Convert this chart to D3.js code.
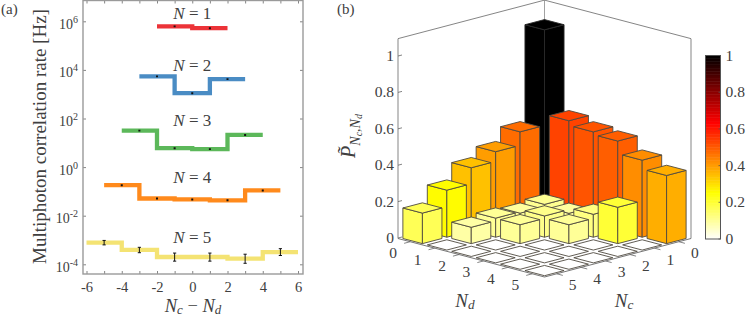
<!DOCTYPE html>
<html>
<head>
<meta charset="utf-8">
<script src="https://cdn.jsdelivr.net/npm/d3@7"></script>
<style>
  html, body { margin: 0; padding: 0; background: #fff; }
  svg { display: block; }
  text { font-family: "Liberation Serif", serif; fill: #404040; }
</style>
</head>
<body>
<script>
// Panel (a): rates per N
const centersN1 = [-1, 1];
const centersN2 = [-2, 0, 2];
const centersN3 = [-3, -1, 1, 3];
const centersN4 = [-4, -2, 0, 2, 4];
const centersN5 = [-5, -3, -1, 1, 3, 5];

const ratesN1 = [6.2e5, 5.2e5];
const ratesN2 = [5.4e3, 1.1e3, 4.2e3];
const ratesN3 = [32, 6.0, 5.5, 21];
const ratesN4 = [0.18, 0.051, 0.047, 0.043, 0.11];
const ratesN5 = [7.8e-4, 3.9e-4, 2.0e-4, 2.0e-4, 1.7e-4, 3.2e-4];

const lowN1 = [6.0e5, 5.0e5];
const lowN2 = [5.2e3, 1.06e3, 4.05e3];
const lowN3 = [31, 5.75, 5.3, 20.2];
const lowN4 = [0.173, 0.049, 0.045, 0.041, 0.105];
const lowN5 = [6.3e-4, 3.0e-4, 1.35e-4, 1.35e-4, 1.1e-4, 2.3e-4];

const highN1 = [6.4e5, 5.4e5];
const highN2 = [5.6e3, 1.14e3, 4.35e3];
const highN3 = [33, 6.25, 5.7, 21.8];
const highN4 = [0.187, 0.053, 0.049, 0.045, 0.115];
const highN5 = [9.6e-4, 5.0e-4, 2.9e-4, 2.9e-4, 2.6e-4, 4.4e-4];

const seriesColors = ["#ec3338", "#4a8cc4", "#5cb85a", "#ff8a1c", "#f4e373"];
const labelRates = [1.2e6, 9.1e3, 48, 0.23, 7.8e-4];
const xTicks = d3.range(-6, 7);
const yTicks = [1e-4, 1e-2, 1, 1e2, 1e4, 1e6];
const yExponents = ["-4", "-2", "0", "2", "4", "6"];

// Panel (b): P[Nc][Nd]
const ncValues = [0, 1, 2, 3, 4, 5];
const ndValues = [0, 1, 2, 3, 4, 5];
const probNc0 = [1.0, 0.535, 0.509, 0.494, 0.424, 0.375];
const probNc1 = [0.474, 0.11, 0.096, 0.126, 0.2, 0];
const probNc2 = [0.40, 0.097, 0.117, 0.104, 0, 0];
const probNc3 = [0.347, 0.105, 0.104, 0, 0, 0];
const probNc4 = [0.259, 0.09, 0, 0, 0, 0];
const probNc5 = [0.168, 0, 0, 0, 0, 0];
const zTicks = [0, 0.2, 0.4, 0.6, 0.8, 1];

const svg = d3.select("body").append("svg")
    .attr("width", 747)
    .attr("height", 318);

// italic N with optional subscript
function addMath(sel, sub, size) {
    sel.append("tspan").attr("font-style", "italic").text("N");
    if (sub) {
        sel.append("tspan").attr("font-style", "italic")
            .attr("font-size", size * 0.7).attr("dy", size * 0.12).text(sub);
    }
}

svg.append("text").attr("x", 1).attr("y", 14).attr("font-size", 15).text("(a)");
svg.append("text").attr("x", 337).attr("y", 14).attr("font-size", 15).text("(b)");

// ---------- panel (a) ----------
const x = d3.scaleLinear().domain([-6, 6]).range([86.5, 298]);
const y = d3.scaleLog().domain([1e-4, 1e6]).range([264.3, 21.3]);
const boxA = { left: 83, right: 303, top: 0.5, bottom: 274 };

const gA = svg.append("g");

const xBottom = gA.append("g")
    .attr("transform", `translate(0,${boxA.bottom})`)
    .call(d3.axisBottom(x).tickValues(xTicks).tickSize(-3).tickPadding(8)
        .tickFormat(d => d % 2 === 0 ? String(d) : ""));
const xTop = gA.append("g")
    .attr("transform", `translate(0,${boxA.top})`)
    .call(d3.axisTop(x).tickValues(xTicks).tickSize(-3).tickFormat(""));
const yLeft = gA.append("g")
    .attr("transform", `translate(${boxA.left},0)`)
    .call(d3.axisLeft(y).tickValues(yTicks).tickSize(-3).tickPadding(5).tickFormat(""));
const yRight = gA.append("g")
    .attr("transform", `translate(${boxA.right},0)`)
    .call(d3.axisRight(y).tickValues(yTicks).tickSize(-3).tickFormat(""));

[xBottom, xTop, yLeft, yRight].forEach(a => {
    a.select(".domain").remove();
    a.selectAll("line").attr("stroke", "#666").attr("stroke-width", 0.8);
});
xBottom.selectAll("text").attr("font-size", 14.5)
    .style("font-family", "Liberation Serif").attr("fill", "#404040");

yLeft.selectAll(".tick text").each(function (d, i) {
    const t = d3.select(this).attr("font-size", 14).attr("fill", "#404040")
        .style("font-family", "Liberation Serif").attr("dy", "0.5em");
    t.append("tspan").text("10");
    t.append("tspan").attr("font-size", 10).attr("dy", -6).text(yExponents[i]);
});

gA.append("rect")
    .attr("x", boxA.left).attr("y", boxA.top)
    .attr("width", boxA.right - boxA.left).attr("height", boxA.bottom - boxA.top)
    .attr("fill", "none").attr("stroke", "#9a9a9a").attr("stroke-width", 1.4);

const stepLine = d3.line().x(d => x(d[0])).y(d => y(d[1])).curve(d3.curveStep);

const allCenters = [centersN1, centersN2, centersN3, centersN4, centersN5];
const allRates = [ratesN1, ratesN2, ratesN3, ratesN4, ratesN5];
const allLow = [lowN1, lowN2, lowN3, lowN4, lowN5];
const allHigh = [highN1, highN2, highN3, highN4, highN5];

allRates.forEach((rates, s) => {
    const centers = allCenters[s];
    const pts = centers.map((c, i) => [c, rates[i]]);
    pts.unshift([centers[0] - 1, rates[0]]);
    pts.push([centers[centers.length - 1] + 1, rates[rates.length - 1]]);

    gA.append("path")
        .attr("d", stepLine(pts))
        .attr("fill", "none")
        .attr("stroke", seriesColors[s])
        .attr("stroke-width", 4.3)
        .attr("stroke-linejoin", "miter");

    const cap = s === 4 ? 1.6 : 1;
    centers.forEach((c, i) => {
        const px = x(c);
        const lo = y(allLow[s][i]), hi = y(allHigh[s][i]);
        gA.append("path")
            .attr("d", `M${px - cap},${lo}H${px + cap}M${px},${lo}V${hi}M${px - cap},${hi}H${px + cap}`)
            .attr("fill", "none")
            .attr("stroke", "#111")
            .attr("stroke-width", s === 4 ? 1 : 1.1);
    });
});

// N = k labels sit above each series
labelRates.forEach((r, i) => {
    const t = gA.append("text")
        .attr("x", x(0)).attr("y", y(r))
        .attr("text-anchor", "middle")
        .attr("font-size", 17);
    addMath(t);
    t.append("tspan").attr("xml:space", "preserve").text(" = " + (i + 1));
});

gA.append("text")
    .attr("transform", "translate(46,136.5) rotate(-90)")
    .attr("text-anchor", "middle")
    .attr("font-size", 19)
    .text("Multiphoton correlation rate [Hz]");

const xLabel = gA.append("text")
    .attr("x", 193).attr("y", 312)
    .attr("text-anchor", "middle")
    .attr("font-size", 18.5);
addMath(xLabel, "c", 18.5);
xLabel.append("tspan").attr("dy", -18.5 * 0.12).text(" \u2212 ");
addMath(xLabel, "d", 18.5);

// ---------- panel (b) ----------
const probMatrix = [probNc0, probNc1, probNc2, probNc3, probNc4, probNc5];

// floor is a rhombus: horizontal position follows Nd-Nc, vertical follows Nd+Nc
const floorX = d3.scaleLinear().domain([-6, 6]).range([398, 691]);
const floorY = d3.scaleLinear().domain([0, 12]).range([200, 277]);
const zPix = d3.scaleLinear().domain([0, 1]).range([0, 181.7]);
const zAxisY = d3.scaleLinear().domain([0, 1]).range([238, 56]);
const hot = d3.scaleLinear()
    .domain([0, 0.254, 0.635, 1])
    .range(["#ffffff", "#ffff00", "#ff0000", "#000000"])
    .clamp(true);

// project grid coords (u along Nc, v along Nd, z height)
const proj = (u, v, z) => [floorX(v - u), floorY(u + v) - zPix(z)];
const poly = corners => corners.map(c => c.join(",")).join(" ");

const gB = svg.append("g");
const boxTop = 1.1;

// wall and box lines
const frameLines = [
    [[0, 6, 0], [0, 6, boxTop], "#a8a8a8", 1.4],
    [[6, 0, 0], [6, 0, boxTop], "#a8a8a8", 1.4],
    [[0, 0, 0], [0, 0, boxTop], "#8a8a8a", 0.8],
    [[6, 0, boxTop], [0, 0, boxTop], "#777", 0.9],
    [[0, 0, boxTop], [0, 6, boxTop], "#777", 0.9],
    [[6, 0, 0], [6, 6, 0], "#666", 0.9],
    [[6, 6, 0], [0, 6, 0], "#666", 0.9]
];
frameLines.forEach(l => {
    const a = proj(...l[0]), b = proj(...l[1]);
    gB.append("line")
        .attr("x1", a[0]).attr("y1", a[1]).attr("x2", b[0]).attr("y2", b[1])
        .attr("stroke", l[2]).attr("stroke-width", l[3]);
});

// z axis ticks
zTicks.forEach(d => {
    const py = zAxisY(d);
    gB.append("line")
        .attr("x1", 398).attr("x2", 402).attr("y1", py).attr("y2", py - 1)
        .attr("stroke", "#666").attr("stroke-width", 0.8);
    gB.append("text")
        .attr("x", 394).attr("y", py + 5)
        .attr("text-anchor", "end")
        .attr("font-size", 15.5)
        .text(String(d));
});

// floor ticks and their labels
ndValues.forEach(d => {
    const a = proj(6, d + 0.5, 0), b = proj(6.25, d + 0.5, 0);
    gB.append("line").attr("x1", a[0]).attr("y1", a[1]).attr("x2", b[0]).attr("y2", b[1])
        .attr("stroke", "#666").attr("stroke-width", 0.8);
    gB.append("text")
        .attr("x", a[0] - 17).attr("y", a[1] + 16.5)
        .attr("text-anchor", "middle").attr("font-size", 15.5).text(d);
});
ncValues.forEach(d => {
    const a = proj(d + 0.5, 6, 0), b = proj(d + 0.5, 6.25, 0);
    gB.append("line").attr("x1", a[0]).attr("y1", a[1]).attr("x2", b[0]).attr("y2", b[1])
        .attr("stroke", "#666").attr("stroke-width", 0.8);
    gB.append("text")
        .attr("x", a[0] + 16).attr("y", a[1] + 16.5)
        .attr("text-anchor", "middle").attr("font-size", 15.5).text(d);
});

// bars, painted back to front
const cells = [];
ncValues.forEach(nc => ndValues.forEach(nd => {
    cells.push({ nc, nd, p: probMatrix[nc][nd] });
}));
cells.sort((a, b) => (a.nc + a.nd) - (b.nc + b.nd));

const half = 0.4;
cells.forEach(c => {
    const u = c.nc + 0.5, v = c.nd + 0.5;
    const back = z => proj(u - half, v - half, z);
    const right = z => proj(u - half, v + half, z);
    const front = z => proj(u + half, v + half, z);
    const left = z => proj(u + half, v - half, z);
    const g = gB.append("g")
        .attr("fill", hot(c.p))
        .attr("stroke", c.p > 0.9 ? "#2a2a2a" : "#4f4a40")
        .attr("stroke-width", 0.9)
        .attr("stroke-linejoin", "round");
    if (c.p > 0) {
        g.append("polygon").attr("points", poly([left(0), front(0), front(c.p), left(c.p)]));
        g.append("polygon").attr("points", poly([front(0), right(0), right(c.p), front(c.p)]));
    }
    g.append("polygon").attr("points", poly([back(c.p), right(c.p), front(c.p), left(c.p)]));
});

// axis labels
const ndLabel = gB.append("text")
    .attr("x", 465).attr("y", 307)
    .attr("text-anchor", "middle").attr("font-size", 19);
addMath(ndLabel, "d", 19);
const ncLabel = gB.append("text")
    .attr("x", 624).attr("y", 307)
    .attr("text-anchor", "middle").attr("font-size", 19);
addMath(ncLabel, "c", 19);

const pLabel = gB.append("text")
    .attr("transform", "translate(355,136) rotate(-90)")
    .attr("text-anchor", "middle")
    .attr("font-size", 20);
pLabel.append("tspan").attr("font-style", "italic").text("P\u0303");
pLabel.append("tspan").attr("font-style", "italic").attr("font-size", 14).attr("dy", 5).text("N");
pLabel.append("tspan").attr("font-style", "italic").attr("font-size", 10).attr("dy", 2).text("c");
pLabel.append("tspan").attr("font-style", "italic").attr("font-size", 14).attr("dy", -2).text(",N");
pLabel.append("tspan").attr("font-style", "italic").attr("font-size", 10).attr("dy", 2).text("d");

// colorbar
const barY = d3.scaleLinear().domain([0, 1]).range([239, 55.5]);
const barX = 705.5, barW = 15;
const barSteps = d3.range(0, 1, 1 / 128);
const gC = svg.append("g");
gC.selectAll("rect.step")
    .data(barSteps)
    .join("rect")
    .attr("class", "step")
    .attr("x", barX)
    .attr("width", barW)
    .attr("y", d => barY(d + 1 / 128))
    .attr("height", d => barY(d) - barY(d + 1 / 128) + 0.5)
    .attr("fill", d => hot(d + 1 / 256));
gC.append("rect")
    .attr("x", barX).attr("y", barY(1))
    .attr("width", barW).attr("height", barY(0) - barY(1))
    .attr("fill", "none").attr("stroke", "#555").attr("stroke-width", 1);
zTicks.forEach(d => {
    gC.append("line")
        .attr("x1", barX + barW - 2).attr("x2", barX + barW)
        .attr("y1", barY(d)).attr("y2", barY(d))
        .attr("stroke", "#555").attr("stroke-width", 0.8);
    gC.append("text")
        .attr("x", 725.5).attr("y", barY(d) + 5)
        .attr("font-size", 15.5)
        .text(String(d));
});
</script>
</body>
</html>
